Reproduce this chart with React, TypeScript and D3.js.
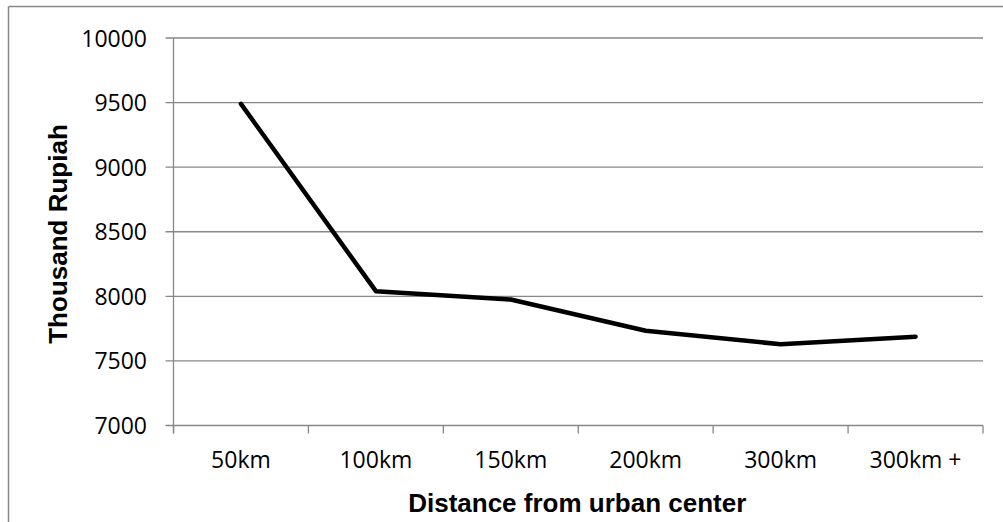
import React from "react";
import * as d3 from "d3";

const categories = ["50km", "100km", "150km", "200km", "300km", "300km +"];
const values = [9490, 8040, 7975, 7734, 7629, 7688];
const yTicks = [7000, 7500, 8000, 8500, 9000, 9500, 10000];

const W = 1003, H = 522;
const left = 173.5, right = 983, top = 38, bottom = 425.5;
const gridColor = "#878787";
const tickFont = "'Open Sans', sans-serif";
const titleFont = "'Liberation Sans', Arial, sans-serif";

export default function App() {
  const x = d3.scaleBand().domain(categories).range([left, right]);
  const y = d3.scaleLinear().domain([7000, 10000]).range([bottom, top]);

  const line = d3.line<number>()
    .x((d, i) => (x(categories[i]) as number) + x.bandwidth() / 2)
    .y(d => y(d));

  // tick boundaries between bands
  const bounds = categories.map(c => x(c) as number).concat([right]);

  return (
    <svg width={W} height={H} style={{ position: "absolute", left: 0, top: 0, background: "#fff" }}>
      {/* outer chart border (top and left visible) */}
      <line x1={8.5} x2={W} y1={6.5} y2={6.5} stroke={gridColor} strokeWidth={1.5} />
      <line x1={8.5} x2={8.5} y1={6.5} y2={H} stroke={gridColor} strokeWidth={1.5} />

      {yTicks.map(t => (
        <g key={t}>
          <line x1={left - 8} x2={right} y1={y(t)} y2={y(t)} stroke={gridColor} strokeWidth={1.3} />
          <text x={147} y={y(t) + 8.5} textAnchor="end" fontFamily={tickFont} fontSize={23} fill="#000">{t}</text>
        </g>
      ))}

      <line x1={left} x2={left} y1={top} y2={bottom + 8} stroke={gridColor} strokeWidth={1.3} />
      {bounds.map((b, i) => (
        <line key={i} x1={b} x2={b} y1={bottom} y2={bottom + 8} stroke={gridColor} strokeWidth={1.3} />
      ))}

      {categories.map(c => (
        <text key={c} x={(x(c) as number) + x.bandwidth() / 2} y={468} textAnchor="middle"
          fontFamily={tickFont} fontSize={23} fill="#000">{c}</text>
      ))}

      <path d={line(values) as string} fill="none" stroke="#000" strokeWidth={4.5}
        strokeLinejoin="round" strokeLinecap="round" />

      <text x={(left + right) / 2 - 1} y={512} textAnchor="middle" fontFamily={titleFont}
        fontWeight="bold" fontSize={26} fill="#000">Distance from urban center</text>
      <text transform={`translate(67,234) rotate(-90)`} textAnchor="middle"
        fontFamily={titleFont} fontWeight="bold" fontSize={26} fill="#000">Thousand Rupiah</text>
    </svg>
  );
}
